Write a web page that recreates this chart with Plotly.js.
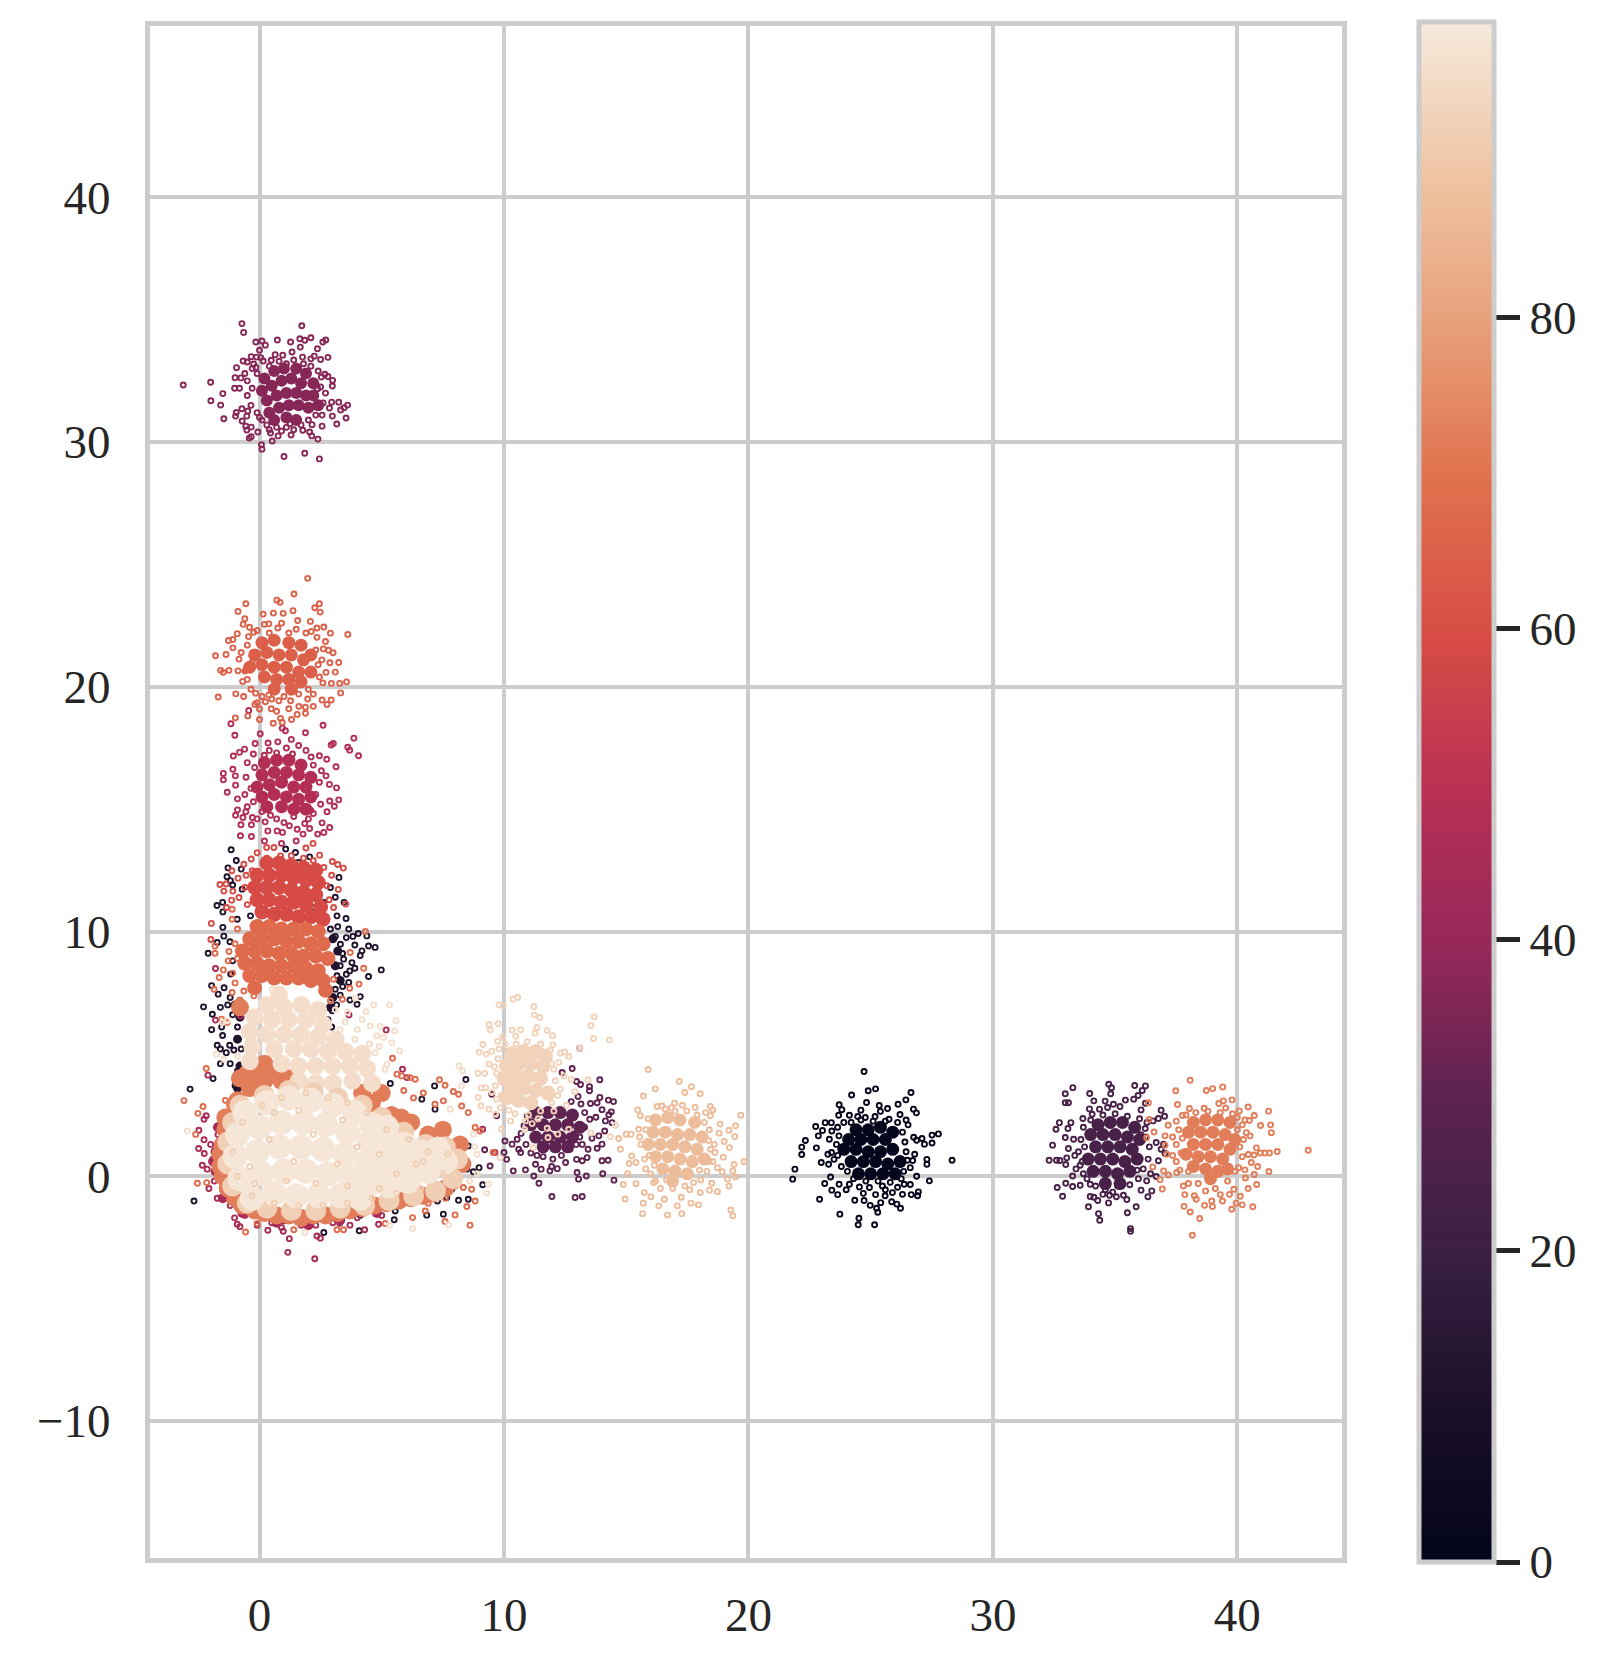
<!DOCTYPE html>
<html>
<head>
<meta charset="utf-8">
<script src="https://cdn.plot.ly/plotly-3.0.1.min.js"></script>
<style>html,body{margin:0;padding:0;background:#fff}</style>
</head>
<body>
<div id="chart" style="width:1604px;height:1658px"></div>
<script>
// points, [x, y]. pts/mid = loose markers, core = dense middle of a cluster
var ptsA = [[-3.12,32.33],[-2,32.44],[-1.99,31.69],[-1.5,31.98],[-1.59,31.51],[-1.46,30.95],[-.72,34.84],[-.65,34.48],[1.73,34.75],[-.15,34.09],[.1,34.13],[.24,33.96],[.73,34.17],[1.27,34.09],[1.65,34.22],[2.1,34.26],[2.71,34.17],[2.59,34.09],[1.85,34.16],[2.37,33.81],[1.67,33.88],[2.8,33.46],[0,33.75],[.64,33.57],[1.33,33.68],[-.34,33.49],[-.12,33.47],[-.67,33.31],[-.5,33.27],[-.94,33.04],[-.24,33.19],[.15,33.31],[.48,33.34],[1.76,33.47],[2.24,33.51],[2.5,33.37],[-1,32.63],[-.76,32.62],[-1.02,32.2],[-.82,32.2],[2.67,32.77],[2.99,32.52],[2.98,32.29],[2.53,32.66],[2.8,32.68],[2.38,32.18],[2.95,31.63],[3.24,31.63],[3.6,31.51],[3.46,31.4],[3.32,31.31],[2.86,31.39],[3.54,30.98],[3.16,30.74],[2.98,31.06],[2.56,31.1],[2.56,30.65],[-.98,31.06],[-.95,31.21],[-.71,30.86],[-.52,31.06],[-.48,31.27],[-.72,31.36],[-.56,30.65],[-.52,30.49],[-.34,30.61],[-.07,30.41],[-.42,30.16],[-.34,30.22],[.08,29.89],[.1,29.71],[1,29.41],[1.85,29.54],[2.45,29.31],[.52,30.04],[.45,30.37],[.76,30.25],[1.29,30.29],[1.77,30.48],[2.14,30.25],[2.39,30.12],[2.05,30.41],[2.15,30.71]];
var midA = [[-.3,33],[-.1,32.8],[.4,33.1],[.8,33.3],[1.1,33.2],[1.4,33.35],[1.8,33.2],[2.1,33.1],[2.4,32.9],[-.5,32.5],[-.3,32.2],[-.5,31.9],[-.35,31.5],[-.1,31.2],[.1,30.9],[.3,30.7],[.7,30.6],[1.1,30.6],[1.4,30.5],[1.7,30.7],[2,30.9],[2.3,31.1],[2.6,31.6],[2.7,32],[2.5,32.25],[-.6,32.8],[0,31],[.4,30.5],[.9,30.45],[1.25,30.75],[-.15,33.05],[2.1,33.4],[.95,33.55],[.05,33.45]];
var coreA = [[.2,32.6],[.6,32.9],[1,33],[1.5,33],[1.9,32.8],[2.2,32.4],[.1,32.1],[.5,32.3],[.9,32.5],[1.3,32.6],[1.7,32.4],[2.2,31.9],[.3,31.7],[.7,31.9],[1.1,32],[1.5,32],[1.9,31.9],[2.4,31.5],[.4,31.2],[.8,31.4],[1.2,31.5],[1.6,31.5],[2,31.4],[.6,30.9],[1.1,31],[1.5,30.9]];

var ptsB = [[1.97,24.43],[1.41,23.79],[.71,23.54],[.84,23.45],[-.56,23.39],[-.88,23.08],[.15,22.97],[.57,23.01],[1.37,23.11],[2.45,23.39],[2.26,23.23],[2.48,23.05],[-.6,22.78],[-.67,22.55],[-.41,22.43],[-.24,22.23],[.38,22.57],[.97,23],[1.56,22.71],[2.08,22.67],[2.63,22.44],[2.9,22.19],[3.61,22.14],[-.91,22.17],[-1.27,21.89],[-1.09,21.93],[-1.09,21.59],[-1.8,21.27],[-1.37,21.32],[-1.59,20.67],[-1.48,20.59],[-1.25,20.67],[-.84,21.13],[-.88,20.65],[-.6,20.64],[-.69,20.22],[-1.69,19.58],[-.97,19.71],[-.16,19.74],[-.19,19.28],[0,19.09],[.24,19.39],[.48,19.1],[-.48,18.81],[-.99,18.73],[0,18.66],[.56,18.51],[.86,18.71],[.93,18.54],[1.31,18.66],[1.54,18.87],[1.88,18.92],[1.88,19.16],[1.61,19.2],[2.56,19.46],[2.76,19.28],[2.93,19.46],[3.32,19.75],[3.56,20.2],[3.28,20.14],[2.94,20.14],[2.59,20.16],[2.72,20.59],[3.24,20.99],[2.88,20.98],[3.01,21.39],[2.61,21.55],[2.82,21.49],[2.35,22.02],[2.12,22.26],[1.97,19.5],[1.27,19.43],[.79,19.43],[.38,19.66]];
var midB = [[-.5,21.7],[-.3,21],[-.5,20.3],[2.4,20.9],[2.3,21.5],[1.2,22.2],[.4,22.2],[2,19.9],[-.1,22.3],[.2,22.55],[.75,22.4],[1.5,22.35],[1.9,22.2],[2.55,21.1],[2.45,20.4],[2.2,19.7],[1.6,19.7],[1,19.6],[.5,19.5],[.1,19.6],[-.35,19.9],[-.55,20.7],[-.75,21.4],[-.45,22.05],[.9,22.6],[2.35,22.4],[2.7,21.85],[3.1,20.6],[.7,19],[1.2,19.1],[2.2,19.2],[-.1,19.35],[-.65,19.6]];
var coreB = [[.1,21.8],[.6,21.9],[1.2,21.8],[1.7,21.7],[2.1,21.3],[-.2,21.3],[.3,21.4],[.8,21.3],[1.3,21.3],[1.8,21.1],[-.4,20.8],[.1,20.9],[.6,20.8],[1.1,20.8],[1.6,20.6],[2.1,20.6],[.2,20.4],[.7,20.3],[1.2,20.3],[1.7,20.2],[.6,19.9],[1.3,19.9]];

var ptsC = [[-.44,19.03],[-1.17,18.49],[-1.01,18.02],[2.6,18.43],[3.86,17.9],[3.02,17.68],[2.93,17.62],[3.61,17.53],[3.69,17.41],[4.05,17.18],[3.13,16.73],[2.75,17.04],[2.45,17.18],[1.88,18.12],[.93,18.31],[1.06,18.2],[.03,18.08],[.75,17.75],[-.18,17.68],[-1.07,17.17],[-.82,17.32],[-.61,17.45],[-1.09,16.63],[-1.48,16.46],[-1.48,16.2],[-1.32,15.69],[-.98,15.98],[-.99,16.36],[-.9,15.42],[-.9,14.97],[-.98,14.75],[-.68,14.66],[-.76,14.36],[-.56,14.89],[-.29,14.66],[-.33,14.36],[-.78,13.91],[-.33,13.88],[.23,14.48],[.34,14.11],[.72,14.11],[.94,14.05],[1.22,14.32],[1.54,14.18],[1.85,14.41],[2.05,14.21],[1.78,13.98],[2.38,13.98],[2.63,14.05],[2.87,14.25],[2.56,14.44],[2.2,14.82],[2.76,14.89],[3.06,15.12],[3.24,15.38],[2.87,15.33],[3.15,15.87],[2.86,16.01],[2.72,16.36],[2.53,16.57],[2.11,17.13]];
var midC = [[.4,17.4],[1.1,17.5],[1.6,17.6],[.2,17.2],[-.5,16.9],[-.6,15.6],[-.5,15.1],[2.3,15.6],[1.4,14.7],[.7,14.6],[.1,14.9],[1.5,13.7],[.9,13.6],[.2,13.7],[-.25,17.25],[-.2,16.7],[-.55,16.3],[-.35,15.85],[-.25,15.3],[.35,17.7],[1.3,17.85],[2.2,16.8],[2.45,16.1],[2.5,15.2],[2,14.6],[1,14.45],[.45,14.75],[-.1,14.6],[.7,17.3],[1.9,17.4],[1.35,17.25],[2.1,14.95]];
var coreC = [[.2,16.9],[.7,17],[1.2,17],[1.7,16.8],[.1,16.4],[.6,16.5],[1.1,16.5],[1.6,16.4],[2.1,16.3],[-.1,15.9],[.4,16],[.9,16.1],[1.4,15.9],[1.9,15.9],[.1,15.5],[.6,15.6],[1.1,15.5],[1.6,15.4],[2.1,15.5],[.3,15.1],[.9,15.1],[1.4,15],[1.9,15]];

var ptsD = [[24.73,4.28],[24.22,3.32],[24.9,3.49],[25.2,3.57],[26.65,3.42],[26.44,3.12],[26.12,2.94],[26.75,2.74],[26.87,2.59],[26.2,2.52],[23.71,2.92],[23.82,2.72],[24.83,3.01],[25.35,2.89],[25.69,2.77],[22.75,2.03],[22.86,1.65],[23.03,1.87],[22.33,1.46],[22.18,1.19],[22.18,.89],[22.78,1.16],[21.9,.29],[21.81,-.12],[22.98,.56],[23.28,.49],[23.25,.9],[23.12,-.3],[22.91,-.94],[23.41,-.57],[23.65,-.75],[23.74,-1.55],[24.52,-1.72],[24.49,-1.98],[25.16,-1.98],[24.35,-.98],[24.73,-.99],[24.98,-1.19],[25.24,-1.31],[25.29,-1.47],[25.41,-1.08],[25.86,-1.04],[26.07,-1.14],[26.22,-1.31],[25.59,-.8],[25.89,-.67],[26.3,-.74],[26.66,-.75],[26.92,-.8],[26.95,-.64],[26.62,-.34],[27.4,-.19],[26.88,0],[27.3,.49],[27.3,.69],[28.33,.65],[27.51,1.36],[27.51,1.68],[27.77,1.73],[27.1,1.54],[26.76,1.59],[26.88,1.47],[27.2,1.31],[26.53,2.1],[26.8,.9],[26.72,.64],[26.62,.35],[23.14,2.19],[23.39,2.19],[23.41,1.85],[23.31,1.51],[23.69,2.49],[24.13,2.49],[24.47,2.44],[24.78,2.4],[25.18,2.44],[25.75,2.33],[23.4,.97],[23.5,.69],[23.36,-.03],[23.71,-.33],[24.13,-.33],[24.54,-.44],[24.95,-.46],[25.48,-.4],[26.37,-.33]];
var midD = [[23.65,2],[23.9,2.2],[24.2,2.2],[24.6,2.3],[25.1,2.25],[25.6,2.25],[26.1,2.2],[26.3,1.8],[26.4,1.4],[26.45,1],[26.5,.65],[26.35,.2],[26.25,-.1],[25.8,-.25],[25.3,-.2],[24.8,-.2],[24.3,-.1],[24.05,.2],[23.8,.4],[23.65,.85],[23.6,1.3],[23.7,1.65],[24,-.55],[24.7,-.7],[25.2,-.75],[25.6,-.55],[26.1,-.45],[26.45,2.3],[25.4,2.65],[24.6,2.7]];
var coreD = [[24.4,1.9],[24.9,1.9],[25.4,2],[25.9,1.8],[24.1,1.5],[24.6,1.5],[25.1,1.5],[25.6,1.5],[23.9,1.1],[24.4,1.1],[24.9,1],[25.4,1],[25.9,1.1],[24.2,.6],[24.7,.6],[25.2,.6],[25.7,.5],[26.2,.6],[24.5,.1],[25,.1],[25.5,.1],[26,.1]];

var ptsE = [[33.27,3.62],[32.96,3.37],[32.96,3],[33.09,3],[33.96,3.38],[34.74,3.76],[34.85,3.62],[34.82,3.37],[35.8,3.71],[36.24,3.69],[36.11,3.5],[35.94,3.3],[35.76,3.15],[34.13,3.08],[34.59,3.07],[35.42,3.11],[34.93,2.94],[34.69,2.81],[34.36,2.74],[36.24,2.98],[36.88,2.7],[37.02,2.45],[36.77,2.36],[36.55,2.26],[36.06,2.71],[32.72,2.19],[32.58,1.92],[33.19,2.19],[33.07,1.95],[33.68,2.36],[34.06,2.53],[32.96,1.58],[32.44,1.27],[33.3,1.51],[33.09,1.13],[32.3,.65],[32.6,.65],[32.74,.64],[32.98,.48],[33.02,.75],[33.26,.01],[33.57,.45],[32.98,-.29],[32.63,-.46],[32.85,-.82],[33.26,-.42],[33.57,-.37],[33.98,-.33],[34.13,-.86],[33.98,-.83],[33.91,-1.25],[34.29,-.99],[34.5,-.74],[34.77,-.78],[34.32,-1.53],[34.73,-1.09],[35.05,-.84],[35.48,-.95],[35.34,-.78],[35.86,-1.25],[35.5,-1.49],[34.37,-1.8],[35.63,-2.14],[35.63,-2.25],[36.34,-.84],[36.5,-.6],[36.06,-.57],[36.68,-.01],[36.29,-.19],[36.77,.63],[36.88,1.1],[36.68,1.38],[36.98,1.31],[37.04,.93],[36.23,1.95]];
var midE = [[33.7,2],[34,2.3],[34.5,2.5],[35,2.55],[35.5,2.45],[36,2.35],[36.3,2.2],[33.6,1.5],[33.5,1],[33.65,.6],[33.7,.1],[33.85,-.1],[34.2,-.4],[34.6,-.55],[35.1,-.4],[35.6,-.35],[35.95,-.1],[36.15,.3],[36.35,.7],[36.4,1.2],[36.25,1.6],[36.45,.1],[33.95,2.75],[35.2,2.85],[33.75,1.2],[35.9,.25],[36.05,1.7],[33.4,.3],[33.35,.85],[34.9,-.65]];
var coreE = [[34.3,2.1],[34.8,2.2],[35.3,2.2],[35.8,2],[34,1.7],[34.5,1.7],[35,1.7],[35.5,1.6],[36,1.5],[34.2,1.2],[34.7,1.2],[35.2,1.2],[35.7,1.1],[33.9,.7],[34.4,.7],[34.9,.7],[35.4,.6],[35.9,.7],[34.1,.2],[34.6,.2],[35.1,.1],[35.6,.2],[34.6,-.3],[35.2,-.3]];

var ptsF = [[38.07,3.92],[37.48,3.49],[38.73,3.5],[38.99,3.58],[39.4,3.65],[36.36,3],[37.55,2.93],[39.24,2.97],[39.43,3.08],[39.78,3.12],[40.44,2.83],[40.08,2.67],[41.28,2.66],[40.69,2.48],[40.95,2.07],[41.36,2.1],[41.39,1.78],[40.31,2.3],[40.49,2.28],[36.39,2.32],[36.59,1.81],[36.29,1.57],[37.17,2.08],[37.04,1.65],[37.75,2.48],[38.04,2.77],[38.64,2.78],[39.52,2.79],[42.9,1.06],[41.63,1.01],[41.31,.95],[41.13,.95],[40.94,.95],[40.78,1.16],[40.52,1.65],[40.37,1.78],[40.68,.87],[40.45,.89],[40.57,.56],[40.83,.4],[40.69,.07],[41.29,.19],[40.31,.26],[40.33,-.07],[40.79,-.34],[40.44,-.5],[39.86,-.53],[40.12,-.82],[39.95,-1.1],[40.2,-1.17],[40.63,-1.25],[39.77,-1.35],[39.68,-.74],[39.39,-1.01],[38.98,-1.24],[38.66,-1.19],[38.95,-1.01],[38.32,-.94],[38.24,-.8],[37.82,-1.23],[38.07,-1.46],[38.46,-1.73],[38.16,-2.41],[37.79,-.4],[36.93,-.52],[36.84,-.14],[36.98,.22],[36.54,.38],[37.18,.05],[37.52,.15],[37.04,1.27],[37.11,.9]];
var midF = [[37.6,1.9],[37.5,1.3],[37.5,.6],[38,.2],[38.4,-.3],[39.1,-.5],[39.9,.2],[40.1,1.2],[40,1.9],[37.9,2.5],[38.3,2.6],[38.8,2.65],[39.3,2.6],[39.8,2.55],[40.2,2.1],[40.25,1.5],[40.2,.8],[40.05,.35],[39.6,-.2],[38.7,-.6],[38,-.3],[37.65,.25],[37.35,.85],[37.35,1.6],[37.75,1.55],[37.7,.95],[39.3,-.75],[37.5,2.25],[37.85,-.75],[40,2.4]];
var coreF = [[38.2,2.2],[38.7,2.3],[39.2,2.3],[39.7,2.2],[38,1.8],[38.5,1.8],[39,1.8],[39.5,1.7],[39.9,1.5],[38.2,1.3],[38.7,1.3],[39.2,1.3],[39.7,1.1],[37.9,.9],[38.4,.8],[38.9,.8],[39.4,.7],[38.2,.4],[38.7,.3],[39.2,.2],[39.6,.3],[38.9,-.1]];

var ptsG = [[15.9,4.36],[17.17,3.87],[17.67,3.66],[16.19,3.57],[17.4,3.42],[18.03,3.37],[15.7,3.28],[19.69,2.49],[15.47,2.71],[15.58,2.47],[16.98,2.98],[18.44,2.85],[18.54,2.71],[18.44,2.47],[18.84,2.13],[19.47,2.06],[19.2,1.88],[19.44,1.62],[19.01,1.42],[18.8,1.76],[18.37,1.46],[19.22,1.17],[18.97,.78],[18.63,.97],[18.73,.35],[19.82,.59],[19.41,.48],[19.36,.22],[18.93,.18],[19.47,-.03],[19.14,-.11],[19.2,-.4],[18.73,-.63],[18.41,-.57],[18.5,-.29],[19.28,-1.38],[19.36,-1.62],[17.95,-1.17],[17.65,-1.1],[17.27,-1.53],[16.69,-1.58],[17.09,-1.21],[17.25,-.86],[16.33,-1.21],[16.56,-.94],[16.01,-.84],[15.7,-1.1],[15.67,-1.53],[14.95,-.93],[15.4,-.31],[14.88,-.34],[15.06,.1],[14.69,1.54],[14.76,1.1],[15,1.72],[15.2,1.72],[15.12,.52],[15.4,.56],[15.22,.83],[15.74,-.67],[16.12,-.26],[18.03,-.67],[17.76,-.26],[15.51,1.92],[16.26,2.85],[16.46,2.87],[17.48,2.67],[17.82,2.81]];
var midG = [[16.9,-.5],[17.4,-.4],[16.4,-.5],[15.6,1.3],[15.8,.3],[15.8,1.9],[15.9,2.35],[16.6,2.75],[17,2.65],[17.9,2.5],[18.2,2.2],[18.4,1.9],[18.45,1.1],[18.4,.6],[18.3,.2],[18.05,-.15],[17.6,-.55],[16.2,-.2],[16,.1],[15.75,.7],[15.55,1.6],[16.85,2.8],[17.3,2.9],[18.25,2.6],[18.6,1.3],[18.55,.6],[16.65,-.15],[16.15,.45],[15.95,.85],[18,.25]];
var coreG = [[16.2,2.3],[16.7,2.4],[17.2,2.3],[17.8,2.2],[16.1,1.8],[16.6,1.8],[17.1,1.7],[17.6,1.7],[18.1,1.6],[15.9,1.3],[16.4,1.3],[16.9,1.3],[17.4,1.2],[17.9,1.1],[16.2,.8],[16.7,.8],[17.2,.7],[17.7,.6],[18.2,.7],[16.5,.3],[17,.2],[17.5,.1],[16.9,-.2]];

var ptsH = [[9.8,7],[9.97,6.96],[10.37,7.23],[10.56,7.3],[11.22,6.93],[11.24,6.59],[11.46,6.49],[13.69,6.51],[13.55,6.16],[13.66,5.63],[14.31,5.57],[9.39,6.2],[9.44,5.98],[9.76,6.23],[10.33,5.98],[10.68,5.99],[11.35,6.08],[11.77,5.95],[11.99,5.74],[11.27,5.84],[10.48,5.72],[9.74,5.52],[9.14,5.38],[8.98,5.07],[9.5,5.11],[9.8,5.2],[9.27,4.99],[12,5.37],[12.31,5.03],[12.48,5.08],[12.65,4.89],[9.39,4.58],[8.94,4.21],[9.21,4.2],[9.61,4.48],[9.07,3.61],[9.25,3.62],[8.94,3.22],[9.06,2.87],[9.39,2.74],[9.66,2.53],[9.9,1.92],[9.69,3.15],[9.51,3.42],[13.43,3.94],[13.1,5.23],[12.9,3.45],[12.31,3.56],[12.45,4.1],[12.04,4.37],[12.24,4.65],[10.27,2.26],[10.88,2.26],[11.5,2.67],[12.04,2.67],[11.2,1.17],[11.8,1.58],[12.2,1.72],[12.65,1.92],[11.77,1.96],[13.56,1.76],[14.35,1.62],[14.56,2.08],[9.84,.76]];
var midH = [[9.75,4.8],[9.7,4.2],[9.65,3.7],[9.9,3.3],[9.85,2.8],[10.2,2.7],[10.45,2.55],[11,2.5],[11.4,2.35],[11.95,3],[12.2,3.3],[12.1,3.9],[11.95,4.6],[11.9,5.15],[10.05,5.4],[10.5,5.4],[10.95,5.5],[11.5,5.4],[9.95,5.7],[12.75,3.95],[12.55,2.9],[10.85,1.9],[11.15,2.15]];
var coreH = [[10.3,5],[10.8,5.1],[11.3,5.1],[11.7,4.9],[10.1,4.5],[10.6,4.6],[11.1,4.6],[11.6,4.5],[10,4],[10.5,4.1],[11,4.1],[11.5,4],[10.3,3.6],[10.8,3.6],[11.3,3.5],[11.8,3.4],[10.1,3.2],[10.6,3.1],[11.1,3]];

var ptsI = [[13.92,3.94],[12.79,4.4],[12.38,4.24],[11.47,5.1],[13.1,5.23],[12.97,3.87],[13.13,3.75],[13.5,3.66],[13.5,3.49],[13.03,3.26],[13.92,3.22],[13.54,2.97],[13.81,3],[14.48,3.05],[14.27,3.11],[14.01,2.72],[14.39,2.63],[14.29,2.51],[13.76,2.41],[14.15,2.26],[14.42,2.19],[13.51,2.33],[14.12,1.85],[13.88,1.65],[14.01,1.31],[13.81,1.14],[13.44,1.1],[13.4,.76],[14.01,.63],[14.26,.65],[13.2,.63],[12.97,.69],[14.04,.1],[13.37,.01],[12.99,.15],[13.05,-.12],[14.5,-.16],[11.96,-.83],[12.91,-.87],[13.2,-.83],[11.43,-.29],[11.22,.01],[10.88,.26],[10.38,.22],[11.52,.29],[11.88,.22],[12.18,.31],[12.52,.56],[11.29,.49],[10.11,.69],[10.04,1.44],[10.33,1.31],[10,.97],[9.21,1.08],[9.43,.42],[9.7,2.47],[9.5,3.35],[10.68,.97],[10.54,1.51],[10.82,2.06]];
var midI = [[11.6,.8],[12,.7],[12.7,1.1],[10.9,1.3],[13.1,1.6],[13.3,2],[13.3,2.6],[13.15,2.95],[12.75,3.05],[10.95,2.45],[10.7,1.75],[11.1,.95],[11.35,.85],[12.35,.85],[12.95,1.3],[11.95,.4],[13.6,1.55],[13.2,1.3],[10.6,1.1]];
var coreI = [[11.3,2.6],[11.8,2.6],[12.3,2.6],[12.8,2.5],[11.1,2.1],[11.6,2.1],[12.1,2.1],[12.6,2.1],[13.1,2],[11.3,1.6],[11.8,1.6],[12.3,1.6],[12.8,1.6],[11.6,1.2],[12.1,1.2],[12.6,1.2]];

var ptsJ = [[-1.16,13.34],[-1.29,12.6],[-.75,12.55],[-1.33,12.24],[-1.19,12.08],[1.07,13.37],[1.47,13.23],[1.59,12.82],[2.05,13.05],[3.25,12.21],[2.33,12.28],[-1.74,11.06],[-1.51,11.19],[-1.5,10.17],[-1.46,9.81],[-1.73,9.55],[-2.1,9.11],[-1.21,9.58],[-1.18,8.26],[-1.96,7.79],[-1.69,7.44],[-2.29,6.92],[-1.93,6.62],[-1.96,5.99],[-1.51,5.75],[-1.73,5.35],[-1.22,5.35],[-1.05,5.16],[-1.36,5.05],[-1.9,3.99],[-2.84,3.56],[-2.68,-1.01],[3.46,11.19],[3.54,10.53],[3.17,10.64],[3.82,9.8],[4.04,9.92],[4.39,9.82],[3.65,10.1],[4.19,9.21],[4.46,9.41],[4.73,9.35],[4.12,9.02],[4.98,8.43],[4.46,8.16],[3.69,8.39],[3.78,8.73],[3.44,8.87],[3.17,8.19],[3.65,7.92],[4.12,7.34],[3.99,7.03],[2.97,6.76],[3.1,7.64],[3.31,9.48],[2.9,10.1],[2.63,11.19],[2.22,10.98],[2.29,9.96],[-.71,11.73],[-.37,10.64],[-.91,10.5],[5.35,3.79],[7.16,3.69],[8.44,3.95],[6.64,3.15],[7.18,2.74],[8.54,1.24],[8.98,.35],[9.13,-.35],[8.75,.18],[8.48,.29],[7.86,-.53],[8.54,-.94],[8.14,-.98],[7.66,-.87],[7.28,-1.01],[6.84,-1.59],[7.52,-1.55],[5.51,-1.78],[5.21,-.94],[5.55,-1.42],[4.08,-2.23],[2.63,-2.3],[4.12,-1.59],[4.73,-1.35]];
var midJ = [[-1.1,6.6],[-.9,6.1],[-1.2,4.6],[-.9,4.3],[-1,3.7],[-1.3,7],[-1.6,6.9],[3.4,9.1],[3.1,9.8],[3.3,7.4],[2.8,6.4],[-1.5,10.8],[-1.45,7.7],[-1.2,7.3],[-1.55,6.1],[-.75,5.2],[-1.6,4.6],[3.2,10.2],[3.55,9.75],[3.9,9.45],[3.3,8.6],[3.55,8.25],[3.9,8.5],[3.4,7.75],[3.7,7.2],[3.15,7],[2.95,6.1],[3.1,11.4],[2.9,11.8],[-1.1,11.9],[-.95,12.9],[-1.6,5.2],[-1.1,8.8]];
var coreJ = [[3,9.7],[3.2,9.2],[3.1,8.6],[3.3,8],[3,7.3],[2.9,6.9],[-1,7],[-.8,6.5],[-.9,5.6],[-.8,4.5],[-.9,3.6]];

var ptsMid = [[-1.8,8.49],[-.78,6.55],[3.66,6.59],[5.18,5.98],[-2.11,4.13],[-1.8,6.38],[5.85,4.37],[6.03,4.03],[-2.27,2.33],[-2.18,2.47],[-2.48,1.88],[-2.27,1.49],[-2.49,1.13],[-2.26,.93],[-2.34,.45],[-2.14,.29],[-2.07,-.5],[-1.73,-.9],[-1.39,-.8],[-1.02,-1.7],[-.91,-1.96],[-.8,-2.06],[.34,-2.21],[.99,-1.83],[.97,-2.25],[1.22,-2.55],[1.16,-3.11],[2.26,-3.37],[2.35,-2.44],[2.49,-2.53],[4.87,-1.96],[4.3,-2.19],[3.28,-1.92],[9.13,1.92],[9.63,.97],[-1.6,.6],[-1.7,1.7],[-1.5,-.3],[-.6,-1.6],[.5,-1.9],[1.7,-2],[3,-1.9],[4,-1.7],[5,-1.6],[-.1,-2],[-1.9,.7],[-2,1.3],[-1.85,-.2],[-1.2,-1.2],[.9,-2.1],[2.3,-2],[3.7,-2]];
var coreMid = [[-1.8,1],[-1.8,.2],[-1.5,-.9],[-.7,-1.5],[.7,-1.9],[2,-2],[3.3,-1.8],[4.8,-1.5],[-1.7,2],[-1.9,.6]];

var ptsK = [[-.1,13.22],[.29,13.43],[.59,13.43],[.86,13.09],[1.9,13.41],[2.19,13.6],[2.46,13.12],[2.98,12.86],[3.2,12.74],[3.43,12.59],[-.34,12.96],[-.64,12.75],[-.3,12.48],[-.88,12.18],[-1.62,11.92],[-1.37,11.94],[-1.46,11.65],[-1.09,11.65],[-1.13,12.48],[-.84,11.39],[-1.14,11.28],[-1.35,10.98],[-1.97,10.33],[-1.99,9.67],[3.22,11.72],[3.53,11.12],[3.03,10.98],[2.63,12.62],[2.76,11.87],[.3,13],[1.3,13.1],[1.8,13],[2.2,12.9],[-.6,11.8],[-.5,11.1],[-.55,12.3],[2.95,12.3],[2.85,11.3]];
var coreK = [[.3,12.8],[.8,12.8],[1.3,12.7],[1.8,12.6],[2.3,12.5],[-.1,12.3],[.4,12.3],[.9,12.3],[1.4,12.2],[1.9,12.1],[2.4,12],[-.2,11.8],[.3,11.8],[.8,11.8],[1.3,11.7],[1.8,11.6],[2.3,11.5],[-.1,11.3],[.4,11.3],[.9,11.2],[1.4,11.2],[1.9,11.1],[2.5,11],[.1,10.8],[.6,10.7],[1.1,10.7],[1.6,10.6],[2.1,10.6],[2.6,10.5]];

var ptsL = [[-1.82,9.41],[-1.82,9.11],[-1.25,9.18],[-1.28,8.8],[-1.65,8.12],[-1.48,8.43],[-1.86,7.64],[-1.12,10.5],[-1.12,10.91],[4.33,10],[4.26,8.5],[3.71,9.14],[4.07,7.85],[3.69,7.68],[3.39,7.23],[-2.18,4.4],[-1.55,6.42],[-1.32,6.28],[-1.12,7.51],[-.64,7.57],[-.23,7.37],[3.03,8.05],[2.9,7.17],[5.44,4.82],[5.62,4.17],[5.82,4.1],[6.16,4.03],[6.37,3.96],[7.36,3.94],[7.59,3.72],[7.93,3.46],[8.14,3.35],[7.52,3.08],[7.18,2.94],[8.27,2.87],[8.54,2.6],[8.82,1.99],[9.02,1.85],[-3.09,3.09],[-2.31,2.85],[-2.52,2.57],[-2.61,1.71],[-2.54,-.29],[-2.16,-.26],[-.57,-2.28],[-.1,-1.93],[1.4,-2.19],[3.17,-2.19],[3.44,-2.19],[5.14,-1.93],[6.26,-1.69],[6.78,-1.42],[7.59,-1.85],[8,-1.58],[8.61,-2],[8.48,-1.24],[8.82,-1.01],[8.68,-.53],[8.34,-.46],[9.56,.97],[-1,7.9],[-1.1,8.3],[-.9,10.1],[6.7,3.4],[6.3,3.2],[5.9,3.5],[7.6,-.9],[6.9,-1.1],[-1.4,3.1],[-.8,7.2],[-1,9.5],[-.9,8.9]];
var coreL = [[-.1,10.2],[.4,10.2],[.9,10.1],[1.4,10.1],[1.9,10.1],[2.4,10],[-.4,9.7],[.1,9.7],[.6,9.7],[1.1,9.6],[1.6,9.6],[2.1,9.5],[2.6,9.5],[-.7,9.2],[-.2,9.2],[.3,9.2],[.8,9.1],[1.3,9.1],[1.8,9],[2.3,9],[2.8,8.9],[-.6,8.7],[-.1,8.7],[.4,8.6],[.9,8.6],[1.4,8.6],[1.9,8.5],[2.4,8.4],[-.4,8.2],[.1,8.2],[.6,8.1],[1.1,8.1],[1.6,8.1],[2.1,8],[2.6,8],[-.2,7.7],[2.7,7.6]];
// orange fringe round the big pale blob
var coreRim = [[-.8,6.9],[-.5,4.2],[.2,4.6],[.6,4.2],[.2,3.9],[.9,3.9],[-.4,3.6],[-.9,3.1],[1.2,4],[4.6,3],[5.4,2.5],[6.2,2.2],[6.9,1.7],[7.5,1.9],[5,3.4],[-1.4,2.4],[-1.5,1.3],[-1.6,.4],[-1.3,-.5],[-.7,-1.2],[.2,-1.5],[1.2,-1.6],[2.2,-1.6],[3.2,-1.5],[4.2,-1.3],[5.2,-1.1],[6.2,-.9],[7.1,-.7],[7.9,-.2],[8.3,.5],[8.2,1.3],[-1,2.9],[-1.4,1.9],[-1.6,.9],[-1.5,0],[-1,-.9],[-.2,-1.4],[.7,-1.6],[1.7,-1.7],[2.7,-1.6],[3.7,-1.4],[4.7,-1.2],[5.7,-1],[6.7,-.8],[5.8,2.4],[4.2,3.4],[7.6,-.5],[-.2,4.1],[-.8,4]];

var ptsM = [[.52,7.64],[.86,7.64],[4.67,7],[5.32,7],[3.92,7.28],[4.35,6.73],[5.59,6.35],[5.52,5.94],[4.94,6.12],[4.53,6.14],[5.07,5.67],[5.41,5.46],[5.73,5.12],[4.73,5.05],[5.21,4.58],[4.8,5.74],[5.14,4.37],[-1.76,4.99],[-1.46,4.78],[-1.52,6.28],[-1.32,6.35],[8.16,4.51],[8.31,4.31],[7.8,2.74],[8.27,3.69],[8.75,1.72],[9.36,-.33],[9.29,-.69],[6.26,-2.14],[7.73,-1.99],[5.32,-2],[1.84,-2.3],[-2.95,1.85],[3.5,6.3],[4,6],[3.3,6],[3.9,5.6],[-.9,4.9],[8.9,.9],[8.8,1.2],[8.9,.1],[8.6,-.2],[4.5,5.4],[4.9,5.3],[3.6,6.7],[3.1,6.8],[4.2,6.4]];
var coreM = [[.8,7.4],[.3,7],[1,6.9],[1.7,7],[2.4,6.8],[-.2,6.5],[.5,6.4],[1.2,6.4],[1.9,6.4],[2.6,6.2],[-.4,5.9],[.3,5.8],[1,5.8],[1.7,5.8],[2.4,5.7],[3.1,5.6],[-.3,5.3],[.6,5.2],[1.4,5.2],[2.1,5.2],[2.8,5.1],[3.5,5.1],[4.2,5],[.9,4.6],[1.6,4.5],[2.3,4.5],[3,4.5],[3.7,4.5],[4.4,4.4],[1.6,3.9],[2.3,3.8],[3,3.8],[3.8,3.9],[-.4,4.7],[4.6,3.8]];

// big pale blob: peach outer band, then the palest middle
var coreOuter = [[-.8,2.9],[.2,3.3],[1.2,3.5],[2.2,3.4],[3.2,3.2],[4.2,2.9],[5,2.4],[5.9,1.8],[6.8,1.3],[7.6,1.2],[8.1,.7],[7.9,-.1],[7.2,-.6],[6.3,-.8],[5.3,-1],[4.3,-1.2],[3.3,-1.3],[2.3,-1.4],[1.3,-1.4],[.3,-1.3],[-.5,-1.1],[-1.1,-.4],[-1.3,.5],[-1.3,1.4],[-1.1,2.2]];
var coreN = [[-.6,2.6],[.3,3],[1.2,3.2],[2.1,3.1],[3,2.9],[3.9,2.6],[4.6,2.1],[-.9,1.7],[0,2],[.9,2.2],[1.8,2.2],[2.7,2.1],[3.6,1.8],[4.5,1.4],[5.3,1.2],[-1,.8],[-.1,1],[.8,1.2],[1.7,1.2],[2.6,1.1],[3.5,.9],[4.4,.6],[5.2,.3],[6,.6],[6.6,1],[-.8,-.1],[.1,.1],[1,.2],[1.9,.2],[2.8,.1],[3.7,0],[4.5,-.3],[5.3,-.4],[6.1,-.2],[6.9,.2],[7.6,.6],[7.3,1.1],[-.3,-.9],[.6,-.7],[1.5,-.8],[2.4,-.8],[3.3,-.8],[4.1,-.9],[5.2,2],[5.9,1.3]];
var ptsN = [[-.7,2.2],[.1,2.9],[.9,3.2],[1.9,3.4],[2.8,3.2],[3.6,3],[4.4,2.6],[5.2,1.9],[6.1,1.5],[6.9,1],[7.7,.9],[7.5,.1],[6.6,-.5],[5.6,-.7],[4.6,-.9],[3.6,-1.1],[2.6,-1.2],[1.6,-1.2],[.6,-1.1],[-.3,-.8],[-.9,0],[-1.1,1],[-.4,.4],[.4,1.5],[1.4,.6],[2.2,1.7],[3.2,.5],[4,1.2],[4.9,.9],[5.6,.1],[6.4,.5],[.6,2.6],[1.6,2.7],[3.4,2.3],[-.2,-.3],[1.1,-.2],[2.3,-.3],[3.6,-.4],[4.9,-.5],[6.7,.6]];

// one entry per cluster, low labels first so the pale ones sit on top
var clusters = [
  {pts: ptsD.concat(midD), core: coreD, label: 1, coreSize: 13},
  {pts: ptsJ.concat(midJ), core: coreJ, label: 12, coreSize: 9},
  {pts: ptsE.concat(midE), core: coreE, label: 24, coreSize: 13},
  {pts: ptsI.concat(midI), core: coreI, label: 30, coreSize: 13},
  {pts: ptsA.concat(midA), core: coreA, label: 37, coreSize: 12},
  {pts: ptsMid, core: coreMid, label: 45, coreSize: 10},
  {pts: ptsC.concat(midC), core: coreC, label: 48, coreSize: 13},
  {pts: ptsK, core: coreK, label: 59, coreSize: 15},
  {pts: ptsB.concat(midB), core: coreB, label: 65, coreSize: 13},
  {pts: ptsL, core: coreL, label: 68, coreSize: 15},
  {pts: [], core: coreRim, label: 72, coreSize: 18},
  {pts: ptsF.concat(midF), core: coreF, label: 72, coreSize: 13},
  {pts: ptsG.concat(midG), core: coreG, label: 87, coreSize: 13},
  {pts: ptsH.concat(midH), core: coreH, label: 93, coreSize: 15},
  {pts: ptsM, core: coreM, label: 96, coreSize: 18},
  {pts: [], core: coreOuter, label: 92, coreSize: 21},
  {pts: [], core: coreN, label: 98, coreSize: 25},
  {pts: ptsN, core: [], label: 92, coreSize: 0}
];

var rocket = [[0, '#03051a'], [0.1, '#1a1028'], [0.2, '#3a1f42'], [0.3, '#5c2350'], [0.4, '#96285a'], [0.5, '#b82f54'],
              [0.6, '#d74c44'], [0.7, '#e0704d'], [0.8, '#e79e78'], [0.9, '#efc4a3'], [1, '#f6eadd']];

var serif = 'Liberation Serif, serif';
var textColor = '#262626';
var edge = '#cccccc';

var data = [];
clusters.forEach(function (c) {
  data.push({
    x: c.core.map(function (p) { return p[0]; }),
    y: c.core.map(function (p) { return p[1]; }),
    mode: 'markers', type: 'scatter', hoverinfo: 'skip',
    marker: {color: c.core.map(function () { return c.label; }), coloraxis: 'coloraxis', size: c.coreSize, line: {width: 0}}
  });
  data.push({
    x: c.pts.map(function (p) { return p[0]; }),
    y: c.pts.map(function (p) { return p[1]; }),
    mode: 'markers', type: 'scatter', hoverinfo: 'skip',
    marker: {color: c.pts.map(function () { return c.label; }), coloraxis: 'coloraxis', symbol: 'circle-open', size: 5, line: {width: 1.9}}
  });
});

var axis = {
  showgrid: true, gridcolor: edge, gridwidth: 3.6, zeroline: false,
  showline: true, linecolor: edge, linewidth: 5, mirror: true,
  ticks: 'outside', tickcolor: 'rgba(0,0,0,0)',
  dtick: 10, tickfont: {family: serif, size: 47, color: textColor}
};

// the axis lines sit outside the plot area, so the spines end up 2.5px further out
var layout = {
  width: 1604, height: 1658,
  margin: {l: 149.5, r: 262, t: 25.5, b: 99.5},
  paper_bgcolor: '#ffffff', plot_bgcolor: '#ffffff',
  showlegend: false,
  xaxis: Object.assign({}, axis, {range: [-4.48, 44.28], tick0: 0, ticklen: 12}),
  yaxis: Object.assign({}, axis, {range: [-15.6, 47], tick0: 0, ticklen: 25}),
  coloraxis: {
    colorscale: rocket, cmin: 0, cmax: 99,
    colorbar: {
      x: 1.0647, xanchor: 'left', xpad: 0, y: 0.5, yanchor: 'middle', ypad: 0, len: 1.005, thickness: 75,
      outlinecolor: edge, outlinewidth: 5,
      ticks: 'outside', ticklen: 24, tickwidth: 5, tickcolor: textColor,
      tickvals: [0, 20, 40, 60, 80], tickprefix: '\u2009',
      tickfont: {family: serif, size: 47, color: textColor}
    }
  }
};

Plotly.newPlot('chart', data, layout, {displayModeBar: false, responsive: false});
</script>
</body>
</html>
